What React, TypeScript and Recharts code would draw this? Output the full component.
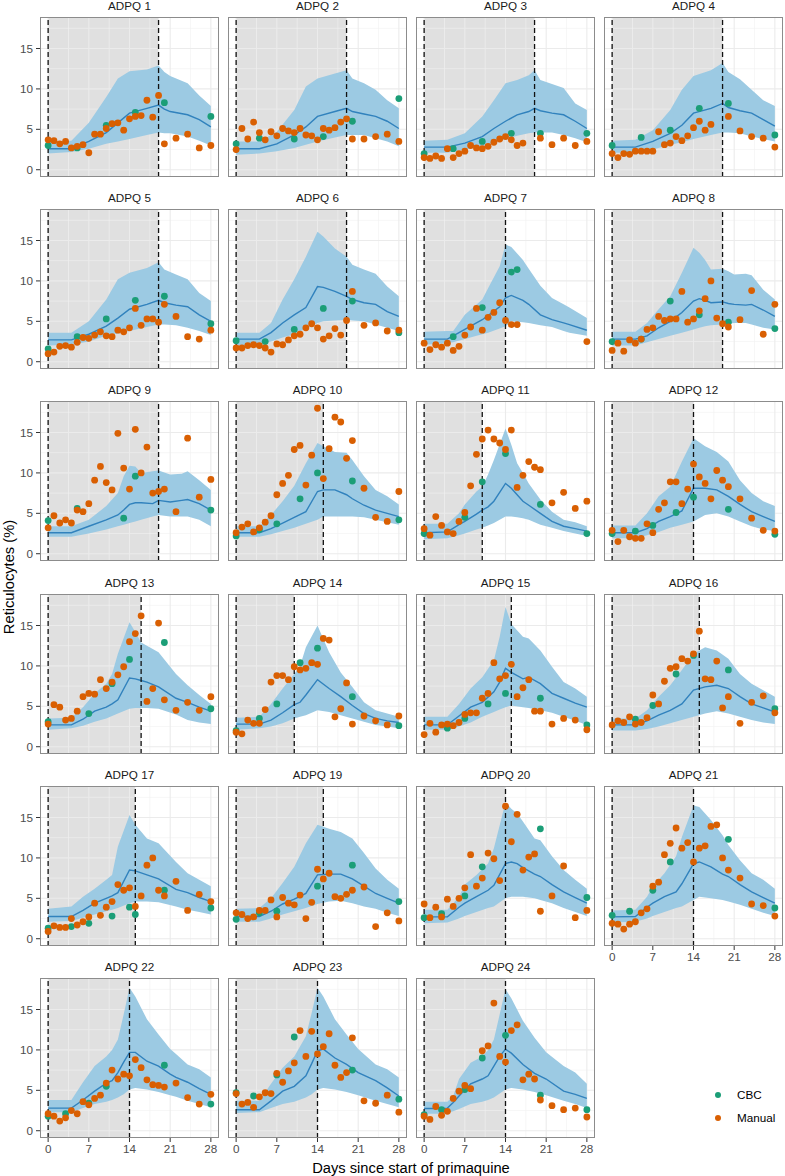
import React from "react";
import {
  ComposedChart,
  XAxis,
  YAxis,
  Area,
  Line,
  Scatter,
  ReferenceLine,
  ReferenceArea,
} from "recharts";

// ---------- DATA ----------
const panelIds = [
  "ADPQ 1", "ADPQ 2", "ADPQ 3", "ADPQ 4", "ADPQ 5", "ADPQ 6", "ADPQ 7", "ADPQ 8",
  "ADPQ 9", "ADPQ 10", "ADPQ 11", "ADPQ 12", "ADPQ 13", "ADPQ 14", "ADPQ 15", "ADPQ 16",
  "ADPQ 17", "ADPQ 19", "ADPQ 20", "ADPQ 21", "ADPQ 22", "ADPQ 23", "ADPQ 24",
];

// last day of primaquine dosing (second dashed line)
const stopDays = [19, 19, 19, 19, 19, 19, 14, 19, 19, 15, 10, 14, 16, 10, 15, 15, 15, 15, 14, 14, 14, 14, 14];

// model prediction band (days, lower, median, upper)
const bandDays = [
  [0, 4, 7, 10, 12, 14, 17, 19, 20, 21, 24, 26, 28],
  [0, 4, 7, 10, 12, 14, 17, 19, 20, 22, 24, 26, 28],
  [0, 4, 7, 10, 12, 14, 16, 18, 19, 20, 22, 24, 26, 28],
  [0, 4, 7, 10, 12, 14, 17, 19, 20, 22, 24, 26, 28],
  [0, 4, 7, 10, 12, 14, 17, 19, 20, 22, 24, 26, 28],
  [0, 4, 6, 8, 10, 12, 14, 15, 17, 19, 20, 22, 24, 26, 28],
  [0, 4, 5, 7, 10, 11, 13, 14, 15, 17, 18, 20, 22, 24, 25, 28],
  [0, 4, 6, 8, 10, 12, 14, 15, 16, 17, 19, 20, 21, 23, 24, 26, 28],
  [0, 4, 7, 10, 12, 13, 14, 15, 16, 18, 19, 21, 23, 24, 26, 28],
  [0, 4, 6, 8, 10, 12, 14, 15, 17, 19, 20, 22, 24, 26, 28],
  [0, 4, 6, 7, 9, 10, 11, 12, 14, 15, 16, 17, 18, 20, 22, 24, 26, 28],
  [0, 4, 6, 8, 10, 12, 14, 16, 18, 20, 22, 24, 26, 28],
  [0, 4, 6, 8, 10, 11, 12, 14, 15, 16, 17, 19, 22, 24, 26, 28],
  [0, 4, 6, 8, 10, 11, 12, 14, 16, 18, 20, 22, 24, 26, 28],
  [0, 4, 6, 8, 10, 12, 13, 14, 15, 17, 18, 20, 22, 24, 26, 28],
  [0, 4, 6, 8, 10, 12, 14, 16, 18, 20, 22, 24, 26, 28],
  [0, 4, 6, 8, 10, 11, 12, 14, 15, 17, 19, 22, 24, 26, 28],
  [0, 4, 6, 8, 10, 12, 14, 16, 18, 20, 22, 24, 26, 28],
  [0, 4, 6, 7, 9, 11, 12, 14, 15, 16, 17, 19, 20, 22, 24, 26, 28],
  [0, 4, 6, 7, 9, 11, 12, 14, 15, 17, 19, 20, 22, 24, 26, 28],
  [0, 4, 6, 8, 10, 11, 12, 13, 14, 15, 17, 19, 21, 22, 24, 26, 28],
  [0, 4, 6, 8, 10, 12, 13, 14, 15, 17, 19, 21, 24, 26, 28],
  [0, 3, 4, 5, 6, 8, 10, 11, 12, 13, 14, 15, 17, 19, 21, 24, 26, 28],
];

const bandHigh = [
  [3.5, 3.6, 5.8, 9.0, 11.3, 12.2, 12.4, 12.9, 12.1, 11.6, 10.7, 9.2, 7.9],
  [3.5, 3.5, 4.7, 7.4, 10.3, 11.3, 11.9, 12.3, 11.3, 10.7, 9.9, 8.6, 7.6],
  [3.6, 3.7, 4.5, 6.6, 8.6, 10.7, 11.1, 11.7, 12.3, 11.1, 10.6, 10.1, 8.2, 7.4],
  [3.6, 3.7, 4.9, 7.4, 9.9, 11.6, 12.3, 13.2, 12.1, 11.2, 9.9, 8.6, 7.9],
  [3.6, 3.6, 5.0, 7.7, 10.2, 11.0, 11.6, 12.3, 11.4, 10.8, 10.2, 8.5, 7.5],
  [3.6, 3.6, 4.8, 7.7, 10.2, 13.0, 16.1, 15.5, 14.0, 13.0, 12.0, 11.4, 10.9, 9.3, 8.1],
  [3.7, 3.8, 3.8, 5.8, 7.7, 9.1, 11.8, 14.5, 14.2, 12.6, 11.5, 9.4, 7.9, 7.1, 6.7, 5.4],
  [3.7, 3.7, 4.8, 6.5, 8.1, 11.0, 14.1, 13.5, 12.6, 11.4, 11.5, 11.2, 10.8, 10.9, 10.7, 8.9, 7.7],
  [3.4, 3.4, 4.2, 5.9, 7.5, 9.6, 10.9, 10.8, 10.0, 10.2, 10.3, 9.8, 9.9, 10.2, 9.1, 7.9],
  [3.4, 3.4, 4.8, 6.5, 8.4, 11.2, 13.7, 13.3, 12.6, 12.5, 11.6, 9.6, 7.9, 7.1, 6.1],
  [3.7, 3.7, 5.0, 6.1, 7.7, 8.3, 9.8, 11.6, 15.5, 13.5, 11.2, 10.0, 8.7, 6.7, 5.2, 4.2, 3.9, 3.4],
  [3.5, 3.5, 5.0, 7.1, 8.3, 11.4, 14.3, 13.3, 12.6, 11.4, 9.1, 7.5, 6.5, 5.9],
  [3.5, 3.6, 4.9, 6.6, 7.8, 9.0, 11.5, 15.4, 14.2, 12.9, 12.5, 11.7, 9.0, 7.6, 6.4, 5.3],
  [3.6, 3.7, 5.3, 7.2, 9.0, 10.0, 12.3, 15.0, 11.7, 9.2, 7.4, 5.5, 4.5, 4.1, 3.7],
  [3.7, 3.7, 5.3, 7.2, 8.6, 10.7, 13.6, 17.3, 15.2, 13.6, 13.4, 11.9, 9.9, 8.0, 7.2, 6.2],
  [3.5, 3.5, 4.5, 6.2, 7.6, 9.5, 11.5, 12.3, 11.9, 10.9, 9.0, 7.8, 7.0, 6.2],
  [3.7, 4.0, 5.2, 6.2, 7.3, 7.9, 11.4, 15.3, 14.1, 12.4, 11.8, 9.5, 8.1, 7.3, 6.5],
  [3.7, 3.8, 5.0, 6.9, 8.9, 11.8, 14.1, 13.6, 13.2, 12.4, 10.6, 8.7, 7.3, 6.2],
  [3.6, 3.6, 5.2, 6.7, 7.9, 9.3, 11.2, 16.9, 16.1, 15.5, 14.5, 12.4, 12.2, 10.2, 8.5, 7.3, 6.2],
  [3.5, 3.6, 5.2, 6.5, 8.1, 10.2, 12.6, 16.5, 16.3, 14.7, 12.8, 11.6, 9.7, 8.1, 7.3, 6.2],
  [3.8, 3.8, 6.0, 8.0, 9.2, 10.0, 11.3, 14.4, 17.7, 16.6, 13.8, 11.9, 10.1, 9.5, 8.2, 7.6, 6.6],
  [3.7, 3.7, 5.8, 7.8, 9.2, 11.7, 14.6, 17.7, 16.6, 13.8, 11.9, 10.1, 8.2, 7.6, 6.6],
  [3.6, 3.6, 3.6, 4.3, 6.4, 8.4, 9.2, 10.0, 11.3, 14.4, 17.5, 16.4, 13.6, 11.5, 9.7, 8.0, 7.2, 5.8],
];

const bandLow = [
  [2.0, 2.2, 2.6, 3.2, 3.5, 3.8, 4.3, 4.6, 4.5, 4.5, 4.1, 3.6, 3.0],
  [1.85, 2.0, 2.3, 2.7, 3.1, 3.5, 4.0, 4.3, 4.3, 4.3, 3.9, 3.5, 2.9],
  [2.1, 2.1, 2.5, 2.9, 3.3, 3.8, 4.2, 4.5, 4.6, 4.6, 4.6, 4.3, 3.9, 3.4],
  [2.1, 2.1, 2.5, 3.1, 3.4, 3.8, 4.3, 4.6, 4.6, 4.5, 4.1, 3.8, 3.5],
  [2.0, 2.1, 2.5, 3.2, 3.5, 3.8, 4.3, 4.6, 4.6, 4.5, 4.2, 3.8, 3.3],
  [2.0, 2.1, 2.5, 3.0, 3.4, 4.1, 4.8, 5.0, 5.1, 5.2, 5.1, 5.0, 4.6, 4.2, 3.8],
  [2.1, 2.3, 2.4, 2.8, 3.4, 3.6, 4.1, 4.4, 5.0, 4.9, 4.8, 4.5, 4.3, 3.8, 3.6, 3.2],
  [2.0, 2.0, 2.4, 2.8, 3.2, 3.6, 4.0, 4.2, 4.4, 4.5, 4.6, 4.7, 4.8, 4.8, 4.6, 4.2, 4.0],
  [2.1, 2.1, 2.5, 3.0, 3.4, 3.6, 3.8, 4.0, 4.2, 4.6, 4.8, 4.6, 4.6, 4.6, 4.2, 3.4],
  [2.1, 2.1, 2.4, 2.8, 3.2, 3.7, 4.2, 4.6, 4.6, 4.6, 4.6, 4.5, 4.2, 3.9, 3.6],
  [1.8, 1.9, 2.3, 2.5, 3.0, 3.2, 3.5, 3.8, 4.6, 4.6, 4.5, 4.4, 4.2, 3.6, 3.2, 2.8, 2.5, 2.2],
  [1.9, 1.9, 2.3, 2.7, 3.2, 3.6, 4.0, 4.8, 5.0, 4.6, 4.0, 3.4, 3.0, 2.8],
  [2.1, 2.3, 2.6, 3.1, 3.5, 3.8, 4.1, 4.7, 4.8, 4.8, 4.8, 4.7, 4.0, 3.3, 3.0, 2.8],
  [2.1, 2.3, 2.5, 2.9, 3.5, 3.7, 3.9, 4.5, 4.3, 3.9, 3.5, 3.1, 2.7, 2.5, 2.3],
  [2.1, 2.1, 2.5, 3.0, 3.7, 4.3, 4.6, 4.9, 5.1, 4.9, 4.8, 4.5, 4.2, 3.7, 3.2, 2.7],
  [2.0, 2.0, 2.2, 2.5, 2.9, 3.3, 3.7, 4.1, 4.4, 4.1, 3.7, 3.3, 3.0, 2.8],
  [2.1, 2.2, 2.6, 3.0, 3.4, 3.6, 3.8, 4.4, 4.6, 4.6, 4.5, 4.0, 3.6, 3.3, 3.0],
  [2.1, 2.1, 2.5, 3.0, 3.4, 3.8, 4.3, 4.6, 4.7, 4.4, 4.0, 3.7, 3.2, 2.8],
  [1.9, 2.0, 2.5, 2.8, 3.3, 3.8, 4.0, 5.0, 5.2, 5.2, 5.2, 5.0, 4.8, 4.4, 3.8, 3.3, 2.8],
  [2.0, 2.1, 2.5, 2.8, 3.3, 3.8, 4.0, 4.8, 5.2, 5.0, 4.8, 4.6, 4.2, 3.7, 3.2, 2.8],
  [2.3, 2.3, 2.8, 3.3, 3.6, 3.8, 4.1, 4.5, 5.1, 5.3, 5.1, 4.8, 4.4, 4.2, 3.7, 3.3, 2.9],
  [2.2, 2.3, 2.8, 3.3, 3.6, 4.1, 4.5, 5.1, 5.3, 5.1, 4.8, 4.4, 3.7, 3.3, 2.9],
  [2.1, 2.1, 2.2, 2.4, 2.7, 3.3, 3.6, 3.8, 4.1, 4.6, 5.1, 5.3, 5.1, 4.8, 4.4, 3.7, 3.3, 2.8],
];

const bandMid = [
  [2.6, 2.6, 3.5, 4.6, 5.8, 7.0, 7.6, 8.0, 7.5, 7.2, 6.8, 6.2, 5.3],
  [2.6, 2.6, 3.2, 4.3, 5.3, 6.6, 7.2, 7.6, 7.2, 6.9, 6.6, 6.0, 5.1],
  [2.8, 2.8, 3.3, 4.1, 5.1, 6.0, 6.8, 7.2, 7.6, 7.3, 7.0, 6.8, 6.0, 5.1],
  [2.8, 2.8, 3.5, 4.5, 5.5, 7.0, 7.6, 8.2, 7.7, 7.3, 7.0, 6.2, 5.4],
  [2.7, 2.7, 3.4, 4.4, 5.4, 6.5, 7.1, 7.6, 7.3, 7.0, 6.8, 5.8, 5.0],
  [2.8, 2.8, 3.6, 4.8, 5.8, 6.7, 9.3, 9.2, 8.7, 8.1, 7.7, 7.3, 7.1, 6.2, 5.6],
  [2.8, 2.8, 3.2, 4.0, 5.2, 5.7, 6.8, 7.9, 8.2, 7.6, 7.1, 5.8, 5.2, 4.8, 4.6, 3.9],
  [2.8, 2.8, 3.2, 4.2, 5.0, 6.1, 7.5, 7.8, 7.6, 7.3, 7.4, 7.2, 7.1, 7.0, 7.1, 6.4, 5.6],
  [2.6, 2.6, 3.4, 4.2, 4.8, 5.4, 6.1, 6.3, 6.3, 6.2, 6.6, 6.4, 6.6, 6.7, 6.2, 5.4],
  [2.6, 2.6, 3.1, 3.8, 4.5, 5.2, 7.7, 7.9, 7.9, 7.3, 6.8, 6.0, 5.4, 5.0, 4.6],
  [2.6, 2.7, 3.6, 4.0, 4.9, 5.4, 5.8, 6.5, 8.7, 8.1, 7.3, 6.5, 6.0, 5.0, 4.0, 3.4, 3.1, 2.8],
  [2.6, 2.6, 3.1, 4.0, 4.6, 5.3, 8.1, 8.1, 7.9, 7.1, 6.1, 5.2, 4.6, 4.0],
  [2.7, 2.7, 3.4, 4.4, 4.9, 5.3, 5.8, 8.5, 8.4, 8.2, 8.0, 7.4, 6.0, 5.5, 4.9, 4.4],
  [2.8, 2.8, 3.3, 4.2, 5.2, 5.5, 6.4, 8.3, 7.2, 6.2, 5.1, 4.1, 3.5, 3.2, 3.0],
  [2.7, 2.7, 3.8, 4.9, 5.5, 6.8, 8.0, 9.7, 9.2, 8.4, 8.6, 7.8, 6.6, 6.0, 5.4, 4.9],
  [2.7, 2.7, 3.2, 3.9, 4.5, 5.3, 7.0, 7.4, 7.6, 7.2, 6.2, 5.3, 4.8, 4.3],
  [2.75, 2.75, 3.5, 4.4, 5.0, 5.3, 5.7, 8.5, 8.4, 7.9, 7.4, 6.1, 5.7, 5.1, 4.6],
  [2.75, 2.75, 3.4, 4.3, 4.9, 5.6, 7.9, 8.0, 8.0, 7.4, 6.5, 5.6, 5.0, 4.4],
  [2.7, 2.7, 3.9, 4.4, 5.2, 6.0, 6.6, 9.3, 9.5, 9.3, 8.8, 8.0, 7.7, 6.7, 5.8, 5.1, 4.4],
  [2.7, 2.75, 3.9, 4.4, 5.2, 5.8, 6.8, 9.3, 9.5, 8.9, 8.0, 7.7, 6.7, 5.8, 5.1, 4.4],
  [2.8, 2.8, 3.8, 4.9, 5.9, 6.2, 7.2, 8.5, 9.7, 9.7, 8.6, 8.0, 7.0, 6.6, 6.0, 5.2, 4.5],
  [2.6, 2.6, 3.7, 4.9, 5.5, 6.8, 8.3, 9.9, 10.1, 9.0, 8.2, 7.2, 6.2, 5.3, 4.3],
  [2.75, 2.75, 2.8, 3.5, 4.3, 5.8, 6.4, 6.8, 8.0, 9.2, 10.1, 9.6, 8.2, 7.1, 6.4, 4.9, 4.5, 4.0],
];

// manual reticulocyte counts (null = no sample that day)
const manualDays = [0, 1, 2, 3, 4, 5, 6, 7, 8, 9, 10, 11, 12, 13, 14, 15, 16, 17, 18, 19, 20, 22, 24, 26, 28];
const manualVals = [
  [3.7, 3.6, 3.2, 3.5, 2.7, 2.9, 3.1, 2.1, 4.4, 4.4, 5.1, 5.7, 5.8, 4.9, 6.3, 6.6, 6.7, 8.6, 6.5, 9.2, 3.2, 3.9, 4.4, 2.7, 3.0],
  [2.5, 5.1, 3.8, 5.9, 4.6, 3.7, 4.7, 4.2, 5.1, 4.8, 4.6, 5.1, 4.3, 4.2, 3.7, 5.1, 4.9, 5.2, 5.9, 6.3, 3.8, 3.8, 4.1, 4.4, 3.5],
  [1.5, 1.4, 1.7, 1.4, 2.6, 1.5, 2.0, 2.3, 3.0, 2.7, 2.6, 2.9, 3.4, 3.8, 4.1, 3.7, 3.0, 3.3, null, null, 3.9, 3.1, 3.9, 3.0, 3.5],
  [2.0, 1.5, 2.0, 1.9, 2.3, 2.3, 2.3, 2.3, 4.7, 3.1, 3.3, 4.1, 3.6, 4.2, 5.2, 6.0, 4.9, 5.6, null, null, 6.6, 4.8, 4.1, 3.9, 2.8],
  [1.0, 1.2, 1.9, 2.0, 1.8, 2.4, 3.0, 2.9, 3.3, 3.7, 3.2, 3.1, 3.9, 3.7, 4.2, 6.6, 4.5, 5.3, 5.3, 4.9, 7.1, 5.6, 3.1, 2.8, 3.9],
  [1.7, 1.7, 2.0, 2.1, 2.0, 1.7, 1.2, 2.2, 2.1, 2.7, 3.2, 3.4, 4.2, 4.7, 4.2, 2.8, 3.2, 4.1, 3.3, 5.1, 8.7, 4.5, 4.8, 3.8, 3.9],
  [2.3, 1.5, 2.1, 1.8, 2.3, 1.4, 1.9, 3.3, 4.3, 6.6, 3.9, 5.5, 6.1, 7.3, 5.1, 4.6, 4.6, null, null, null, null, null, null, null, 2.5],
  [1.4, 2.3, 1.3, 2.7, 2.3, 2.8, 4.0, 4.2, 5.6, 5.1, 5.3, 5.3, 8.7, 4.9, 5.3, 6.3, 7.8, 10.0, 5.4, 4.7, 4.3, 5.2, 8.8, 3.4, 7.1],
  [3.2, 4.7, 3.8, 4.2, 3.8, 5.4, 5.2, 6.2, 9.1, 10.8, 8.8, 7.9, 14.9, 10.6, 8.0, 15.4, 10.0, 13.2, 7.5, 7.7, 8.0, 5.2, 14.3, 7.0, 9.2],
  [2.6, 3.3, 3.7, 2.7, 3.2, 3.9, 4.7, 7.3, 8.7, 9.7, 12.9, 13.4, 8.5, 12.2, 18.0, 9.3, 13.0, 16.9, 16.3, 11.8, 14.0, 8.1, 4.5, 4.0, 7.7],
  [3.1, 2.3, 4.6, 3.5, 2.7, 2.5, 4.0, 5.1, 8.4, 12.3, 14.2, 15.3, 14.2, 13.7, 12.9, 15.3, 8.2, 9.7, 11.4, 10.7, 10.4, 6.3, 7.6, 5.6, 6.5],
  [2.9, 1.5, 2.9, 2.1, 1.9, 1.9, 3.7, 2.6, 5.5, 6.3, 8.9, 8.9, 6.2, 8.0, 11.1, 9.5, 8.7, 6.8, 10.3, 9.1, 8.3, 6.8, 4.4, 2.9, 2.8],
  [2.8, 5.2, 4.9, 3.3, 3.5, 4.4, 6.2, 6.6, 6.5, 8.3, 7.2, 8.0, 8.9, 9.9, 13.0, 14.0, 16.2, 5.6, 7.2, 15.3, 5.8, 4.5, 5.5, 4.5, 6.2],
  [1.8, 1.6, 3.3, 2.9, 2.9, 4.6, 8.0, 8.8, 8.8, 8.3, 9.9, 9.5, 9.7, 10.4, 10.2, 13.4, 13.2, 3.7, 4.7, 7.9, 2.8, 3.8, 3.2, 2.7, 3.8],
  [1.5, 2.9, 1.8, 2.7, 2.8, 2.6, 3.0, 4.0, 4.2, 4.2, 6.0, 6.6, 10.4, 8.4, 8.8, 10.2, 6.2, 7.3, 8.3, 4.4, 4.4, 2.8, 3.5, 3.3, 2.1],
  [2.7, 3.2, 3.0, 3.7, 2.8, 3.0, 3.6, 6.4, 5.3, 8.1, 9.7, 9.9, 10.9, 10.6, 11.5, 14.3, 8.4, 8.3, 10.6, 4.8, 6.2, 2.9, 5.5, 6.3, 4.2],
  [0.9, 1.6, 1.4, 1.4, 2.5, 1.7, 2.1, 2.7, 4.4, 2.9, 3.9, 4.6, 6.7, 6.0, 6.3, 4.0, 5.3, 9.1, 10.0, 6.0, 5.3, 7.1, 3.5, 5.5, 4.6],
  [3.2, 3.0, 2.5, 2.7, 3.5, 3.5, 4.8, 2.7, 5.1, 4.4, 4.2, 5.4, 2.5, 4.5, 8.6, 7.4, 8.1, 5.2, 5.0, 5.5, 6.0, 6.4, 1.5, 3.2, 2.2],
  [4.3, 2.6, 3.9, 2.7, 4.9, 4.0, 5.0, 6.3, 10.4, 6.5, 7.5, 10.6, 9.9, 7.2, 16.4, 12.0, 15.4, 8.5, 10.1, 10.5, 3.4, 5.3, 9.0, 2.6, 3.5],
  [1.9, 1.8, 1.2, 1.8, 2.1, 3.2, 3.7, 6.5, 7.0, 10.4, 11.8, 13.7, 11.2, 11.9, 9.5, 11.2, 11.5, 13.9, 14.1, 10.0, 8.5, 7.5, 4.3, 4.1, 2.8],
  [2.1, 1.8, 1.2, 1.6, 2.5, 2.1, 3.6, 3.2, 4.0, 4.4, 5.9, 7.5, 6.4, 7.0, 6.8, 8.8, 7.8, 6.3, 5.7, 5.6, 5.4, 5.9, 4.1, 3.3, 4.5],
  [4.6, 3.3, 3.5, 2.9, 4.2, 4.7, 4.6, 7.1, 6.0, 7.4, 8.4, 12.4, 9.2, 12.3, 9.5, 10.4, 12.0, 8.1, 6.6, 7.2, 11.5, 3.7, 3.4, 4.4, 2.3],
  [1.8, 1.4, 3.0, 1.9, 2.4, 4.0, 4.9, 5.6, 5.2, null, 9.9, 10.5, 15.8, 9.2, 8.5, 12.4, 13.1, 6.3, 7.0, 6.4, 3.8, 3.1, 2.6, 2.8, 1.7],
];

// CBC reticulocyte counts as [day, value]
const cbcPoints = [
  [[0, 3.0], [5, 2.7], [10, 5.5], [15, 7.1], [20, 8.3], [28, 6.6]],
  [[0, 3.2], [4, 3.9], [10, 3.8], [15, 4.1], [20, 6.0], [28, 8.8]],
  [[0, 2.0], [5, 2.6], [10, 3.5], [15, 4.5], [20, 4.5], [28, 4.5]],
  [[0, 3.0], [5, 4.0], [10, 4.9], [15, 7.6], [20, 8.2], [28, 4.3]],
  [[0, 1.6], [5, 3.1], [10, 5.3], [15, 7.6], [20, 8.1], [28, 4.7]],
  [[0, 2.6], [5, 2.5], [10, 4.0], [15, 6.6], [20, 7.5], [28, 3.6]],
  [[5, 3.1], [10, 6.7], [15, 11.1], [16, 11.4]],
  [[0, 2.5], [5, 2.8], [10, 7.5], [15, 5.8], [20, 4.9], [28, 4.1]],
  [[0, 4.1], [5, 5.6], [13, 4.4], [15, 9.6], [28, 5.4]],
  [[0, 2.2], [4, 3.0], [7, 3.7], [11, 6.8], [14, 10.0], [20, 9.0], [28, 4.2]],
  [[0, 2.5], [7, 4.5], [10, 8.9], [14, 12.4], [20, 6.1], [28, 2.5]],
  [[0, 2.5], [4, 2.8], [7, 3.5], [11, 5.1], [14, 7.0], [20, 5.5], [28, 2.4]],
  [[0, 3.1], [7, 4.1], [11, 7.8], [14, 10.8], [20, 12.9], [28, 4.7]],
  [[0, 2.0], [4, 3.5], [7, 5.3], [11, 10.4], [14, 12.2], [20, 6.2], [28, 2.6]],
  [[4, 2.3], [7, 3.5], [11, 5.3], [14, 6.6], [20, 6.0], [28, 2.7]],
  [[4, 3.4], [7, 5.1], [11, 9.0], [14, 11.3], [20, 9.5], [28, 4.7]],
  [[0, 1.3], [4, 1.5], [7, 1.9], [11, 2.8], [14, 3.9], [15, 3.0], [20, 6.0], [28, 3.8]],
  [[0, 2.4], [4, 3.2], [7, 3.4], [14, 6.5], [20, 9.1], [28, 4.6]],
  [[0, 2.6], [3, 3.1], [7, 5.3], [10, 8.9], [20, 13.6], [28, 5.1]],
  [[0, 2.9], [3, 3.4], [7, 6.0], [10, 9.5], [20, 12.3], [28, 3.8]],
  [[0, 1.8], [3, 2.1], [7, 3.4], [10, 5.5], [20, 8.1], [28, 3.3]],
  [[0, 4.7], [3, 4.3], [7, 6.9], [10, 11.6], [20, 7.5], [28, 3.9]],
  [[0, 2.0], [3, 2.6], [7, 5.1], [10, 9.0], [14, 11.8], [20, 4.4], [28, 2.6]],
];

const xTicks = [0, 7, 14, 21, 28];
const xMinor = [3.5, 10.5, 17.5, 24.5];
const yTicks = [0, 5, 10, 15];
const yMinor = [2.5, 7.5, 12.5, 17.5];

// ---------- STYLE ----------
const X_DOMAIN: [number, number] = [-1.4, 29.4];
const Y_DOMAIN: [number, number] = [-0.9, 18.9];
const PW = 179;
const PH = 160;
const COL_STEP = 188;
const ROW_STEP = 192.2;
const LEFT0 = 40;
const TOP0 = 17;
const CBC_COLOR = "#1b9e77";
const MANUAL_COLOR = "#d95f02";
const RIBBON = "#9ccae3";
const MED_LINE = "#3182bd";
const FONT = "'Liberation Sans', Arial, Helvetica, sans-serif";

const dot = (color: string) => (props: any) =>
  props.cx == null ? <g /> : <circle cx={props.cx} cy={props.cy} r={3.4} fill={color} />;

function Panel({ i }: { i: number }) {
  const c = i % 4;
  const r = Math.floor(i / 4);
  const left = LEFT0 + c * COL_STEP;
  const top = TOP0 + r * ROW_STEP;
  const showY = c === 0;
  const showX = i >= 19;
  const yw = showY ? 40 : 0;
  const xh = showX ? 26 : 0;

  const band = bandDays[i].map((d, k) => ({
    d,
    band: [bandLow[i][k], bandHigh[i][k]],
    med: bandMid[i][k],
  }));
  const manual = manualDays
    .map((d, k) => ({ d, v: manualVals[i][k] }))
    .filter((p) => p.v != null);
  const cbc = cbcPoints[i].map(([d, v]) => ({ d, v }));

  return (
    <>
      <div
        style={{
          position: "absolute",
          left,
          top: top - 18,
          width: PW,
          textAlign: "center",
          fontSize: 11.7,
          lineHeight: "14px",
          color: "#1a1a1a",
          fontWeight: 400,
        }}
      >
        {panelIds[i]}
      </div>
      {/* background: grid + dosing shade */}
      <div style={{ position: "absolute", left, top }}>
        <ComposedChart width={PW} height={PH} data={band} margin={{ top: 0, right: 0, bottom: 0, left: 0 }}>
          <XAxis dataKey="d" type="number" domain={X_DOMAIN} allowDataOverflow hide />
          <YAxis type="number" domain={Y_DOMAIN} allowDataOverflow hide />
          {xMinor.map((v) => (
            <ReferenceLine key={"xm" + v} x={v} stroke="#f2f2f2" strokeWidth={0.6} />
          ))}
          {yMinor.map((v) => (
            <ReferenceLine key={"ym" + v} y={v} stroke="#f2f2f2" strokeWidth={0.6} />
          ))}
          {xTicks.map((v) => (
            <ReferenceLine key={"xM" + v} x={v} stroke="#ebebeb" strokeWidth={1.1} />
          ))}
          {yTicks.map((v) => (
            <ReferenceLine key={"yM" + v} y={v} stroke="#ebebeb" strokeWidth={1.1} />
          ))}
          <ReferenceArea x1={0} x2={stopDays[i]} fill="#000" fillOpacity={0.12} stroke="none" />
        </ComposedChart>
      </div>
      {/* foreground: ribbon, median, dashed lines, points */}
      <div style={{ position: "absolute", left: left - yw, top }}>
        <ComposedChart
          width={PW + yw}
          height={PH + xh}
          data={band}
          margin={{ top: 0, right: 0, bottom: 0, left: 0 }}
        >
          <XAxis
            dataKey="d"
            type="number"
            domain={X_DOMAIN}
            allowDataOverflow
            ticks={xTicks}
            interval={0}
            hide={!showX}
            height={xh}
            axisLine={false}
            tickSize={4}
            tickMargin={3}
            tickLine={{ stroke: "#333333" }}
            tick={{ fill: "#4d4d4d", fontSize: 11.7 }}
          />
          <YAxis
            type="number"
            domain={Y_DOMAIN}
            allowDataOverflow
            ticks={yTicks}
            interval={0}
            hide={!showY}
            width={yw}
            axisLine={false}
            tickSize={4}
            tickMargin={3}
            tickLine={{ stroke: "#333333" }}
            tick={{ fill: "#4d4d4d", fontSize: 11.7 }}
          />
          <Area
            type="linear"
            dataKey="band"
            stroke="none"
            fill={RIBBON}
            fillOpacity={1}
            isAnimationActive={false}
          />
          <Line
            type="linear"
            dataKey="med"
            stroke={MED_LINE}
            strokeWidth={1.4}
            dot={false}
            isAnimationActive={false}
          />
          <ReferenceLine x={0} stroke="#111" strokeWidth={1.3} strokeDasharray="5 3" />
          <ReferenceLine x={stopDays[i]} stroke="#111" strokeWidth={1.3} strokeDasharray="5 3" />
          <Scatter data={cbc} dataKey="v" shape={dot(CBC_COLOR)} isAnimationActive={false} />
          <Scatter data={manual} dataKey="v" shape={dot(MANUAL_COLOR)} isAnimationActive={false} />
        </ComposedChart>
      </div>
      <div
        style={{
          position: "absolute",
          left,
          top,
          width: PW,
          height: PH,
          boxSizing: "border-box",
          border: "1px solid #8c8c8c",
          pointerEvents: "none",
        }}
      />
    </>
  );
}

export default function App() {
  return (
    <div style={{ position: "relative", width: 785, height: 1176, fontFamily: FONT, background: "#fff" }}>
      <style>{`body{margin:0}`}</style>
      {panelIds.map((_, i) => (
        <Panel key={i} i={i} />
      ))}
      {/* y-axis title */}
      <div
        style={{
          position: "absolute",
          left: 9 - 100,
          top: 577 - 10,
          width: 200,
          height: 20,
          lineHeight: "20px",
          textAlign: "center",
          fontSize: 14.7,
          color: "#000",
          transform: "rotate(-90deg)",
        }}
      >
        Reticulocytes (%)
      </div>
      {/* x-axis title */}
      <div
        style={{
          position: "absolute",
          left: 211,
          top: 1159,
          width: 400,
          lineHeight: "18px",
          textAlign: "center",
          fontSize: 14.7,
          color: "#000",
        }}
      >
        Days since start of primaquine
      </div>
      {/* legend */}
      {[
        { label: "CBC", color: CBC_COLOR, y: 1095 },
        { label: "Manual", color: MANUAL_COLOR, y: 1118 },
      ].map((it) => (
        <React.Fragment key={it.label}>
          <div
            style={{
              position: "absolute",
              left: 718 - 3.4,
              top: it.y - 3.4,
              width: 6.8,
              height: 6.8,
              borderRadius: "50%",
              background: it.color,
            }}
          />
          <div
            style={{
              position: "absolute",
              left: 737,
              top: it.y - 8,
              lineHeight: "16px",
              fontSize: 11.7,
              color: "#000",
            }}
          >
            {it.label}
          </div>
        </React.Fragment>
      ))}
    </div>
  );
}
